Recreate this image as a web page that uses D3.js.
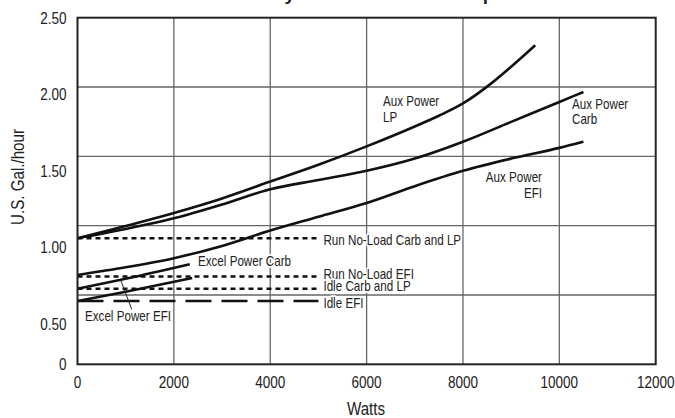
<!DOCTYPE html>
<html>
<head>
<meta charset="utf-8">
<title>Auxiliary Power Fuel Consumption</title>
<script src="https://cdn.jsdelivr.net/npm/d3@7"></script>
<style>
  body { margin: 0; background: #fff; }
  svg text { font-family: "Liberation Sans", Arial, sans-serif; fill: #222; }
  .grid { stroke: #666; stroke-width: 1.3; }
  .frame { fill: none; stroke: #222; stroke-width: 2; }
  .curve { fill: none; stroke: #111; stroke-width: 2.6; }
  .halo { paint-order: stroke; stroke: #fff; stroke-width: 3.5; stroke-linejoin: round; }
</style>
</head>
<body>
<svg id="chart"></svg>
<script>
// axis ticks
var xTicks = [0, 2000, 4000, 6000, 8000, 10000, 12000];
var yTicks = [0, 0.5, 1.0, 1.5, 2.0, 2.5];
var yTickLabels = ["0", "0.50", "1.00", "1.50", "2.00", "2.50"];

// aux power curves (watts, gal/hour)
var auxLpWatts = [0, 1000, 2000, 3000, 4000, 5000, 6000, 7000, 7500, 8000, 8500, 9000, 9500];
var auxLpGal = [1.06, 1.14, 1.225, 1.32, 1.43, 1.54, 1.66, 1.79, 1.86, 1.94, 2.05, 2.18, 2.32];
var auxCarbWatts = [0, 1000, 2000, 3000, 4000, 5000, 6000, 7000, 8000, 9000, 10000, 10500];
var auxCarbGal = [1.06, 1.12, 1.19, 1.28, 1.38, 1.44, 1.50, 1.58, 1.69, 1.82, 1.95, 2.015];
var auxEfiWatts = [0, 1000, 2000, 3000, 4000, 5000, 6000, 7000, 8000, 9000, 10000, 10500];
var auxEfiGal = [0.82, 0.87, 0.93, 1.01, 1.11, 1.20, 1.29, 1.40, 1.50, 1.58, 1.65, 1.69];

// excel power curves
var excelCarbWatts = [0, 1000, 2330];
var excelCarbGal = [0.73, 0.795, 0.89];
var excelEfiWatts = [0, 1000, 2380];
var excelEfiGal = [0.65, 0.71, 0.80];

// flat no-load / idle lines (0 to 5000 W)
var flatNames = ["Run No-Load Carb and LP", "Run No-Load EFI", "Idle Carb and LP", "Idle EFI"];
var flatGal = [1.06, 0.81, 0.73, 0.65];
var flatEndWatts = 5000;

// leader from "Excel Power EFI" label
var leaderWatts = [1124, 896];
var leaderGal = [0.596, 0.787];

var width = 675, height = 418;
var mLeft = 77.5, mRight = 655.7, mTop = 17.7, mBottom = 364.3;
var narrow = 0.82; // condensed type, like the printed chart

var svg = d3.select("#chart").attr("width", width).attr("height", height);

var x = d3.scaleLinear().domain([0, 12000]).range([mLeft, mRight]);
// the printed axis squeezes 0-0.50
var y = d3.scaleLinear().domain([0, 0.5, 2.5]).range([mBottom, 324, mTop]);
// grid divides the frame in 5 equal rows
var gridRow = d3.scaleLinear().domain([0, 5]).range([mBottom, mTop]);

function addText(px, py, str, size, anchor) {
  return svg.append("text")
    .attr("transform", "translate(" + px + "," + py + ") scale(" + narrow + ",1)")
    .attr("text-anchor", anchor || "start")
    .style("font-size", size + "px")
    .text(str);
}

// grid
svg.selectAll(".hgrid")
  .data([1, 2, 3, 4])
  .enter().append("line")
  .attr("class", "grid")
  .attr("x1", mLeft).attr("x2", mRight)
  .attr("y1", function (d) { return gridRow(d); })
  .attr("y2", function (d) { return gridRow(d); });

svg.selectAll(".vgrid")
  .data(xTicks.slice(1, -1))
  .enter().append("line")
  .attr("class", "grid")
  .attr("x1", function (d) { return x(d); })
  .attr("x2", function (d) { return x(d); })
  .attr("y1", mTop).attr("y2", mBottom);

// tick labels
xTicks.forEach(function (d) {
  addText(x(d), mBottom + 24, d, 16.5, "middle");
});
yTicks.forEach(function (d, i) {
  addText(mLeft - 11, y(d) + 6, yTickLabels[i], 16.5, "end");
});

var line = d3.line()
  .x(function (d) { return x(d[0]); })
  .y(function (d) { return y(d[1]); })
  .curve(d3.curveMonotoneX);

function pairs(ws, gs) {
  return ws.map(function (w, i) { return [w, gs[i]]; });
}

// flat dotted / dashed lines
flatGal.forEach(function (g, i) {
  svg.append("path")
    .attr("class", "curve")
    .attr("d", line([[0, g], [flatEndWatts, g]]))
    .style("stroke-width", 2.4)
    .style("stroke-dasharray", i == 3 ? "26,10" : "5,4");
});

[[auxLpWatts, auxLpGal], [auxCarbWatts, auxCarbGal], [auxEfiWatts, auxEfiGal],
 [excelCarbWatts, excelCarbGal], [excelEfiWatts, excelEfiGal]].forEach(function (s) {
  svg.append("path")
    .attr("class", "curve")
    .attr("d", line(pairs(s[0], s[1])));
});

svg.append("path")
  .attr("d", d3.line()(pairs(leaderWatts, leaderGal).map(function (p) { return [x(p[0]), y(p[1])]; })))
  .attr("fill", "none")
  .attr("stroke", "#222")
  .attr("stroke-width", 1);

// frame
svg.append("rect")
  .attr("class", "frame")
  .attr("x", mLeft).attr("y", mTop)
  .attr("width", mRight - mLeft).attr("height", mBottom - mTop);

// flat line labels
var flatDy = [1.5, -2.3, -2.3, 2];
flatNames.forEach(function (d, i) {
  addText(x(flatEndWatts) + 5, y(flatGal[i]) + flatDy[i] + 5, d, 14.2).attr("class", "halo");
});

// curve labels
function label(lines, w, g, anchor) {
  lines.forEach(function (s, i) {
    addText(x(w), y(g) + i * 15.5, s, 14.2, anchor).attr("class", "halo");
  });
}
label(["Aux Power", "LP"], 6340, 1.923);
label(["Aux Power", "Carb"], 10263, 1.904);
label(["Aux Power", "EFI"], 9640, 1.427, "end");
label(["Excel Power Carb"], 2500, 0.879);
label(["Excel Power EFI"], 156, 0.52);

// axis titles
addText(366, 415, "Watts", 18.5, "middle");
svg.append("text")
  .attr("transform", "translate(24,177) rotate(-90) scale(" + narrow + ",1)")
  .attr("text-anchor", "middle")
  .style("font-size", "18.5px")
  .text("U.S. Gal./hour");

// title (clipped at the top edge)
svg.append("text")
  .attr("x", 372)
  .attr("y", 0)
  .attr("text-anchor", "middle")
  .style("font-weight", "bold")
  .style("font-size", "19px")
  .text("Auxiliary Power Fuel Consumption");
</script>
</body>
</html>
